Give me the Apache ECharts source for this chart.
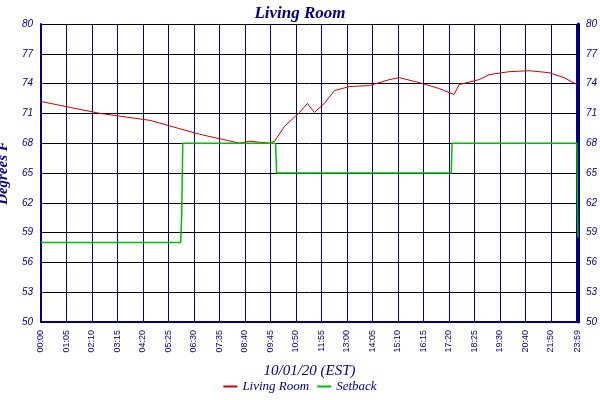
<!DOCTYPE html><html><head><meta charset="utf-8"><script src="https://cdn.jsdelivr.net/npm/echarts@6/dist/echarts.min.js"></script></head><body style="margin:0"><div id="c" style="width:600px;height:400px"></div><script>
const tickLabels=['00:00','01:05','02:10','03:15','04:20','05:25','06:30','07:35','08:40','09:45','10:50','11:55','13:00','14:05','15:10','16:15','17:20','18:25','19:30','20:40','21:50'];
const lastLabel='23:59';
const roomPos=[0,2.31,4.27,6.22,7.79,8.18,8.96,9.16,9.55,10.14,10.45,10.72,11.11,11.51,12.09,12.88,13.66,14.05,14.83,15.62,16.2,16.4,17.18,17.57,18.36,19.14,19.92,20.51,21.02];
const roomTemps=[72.2,71.0,70.3,68.9,68.0,68.2,68.0,68.2,69.7,71.1,72.0,71.1,72.0,73.3,73.7,73.8,74.4,74.6,74.1,73.5,72.9,73.9,74.4,74.9,75.2,75.3,75.1,74.6,73.9];
const setbackPos=[0,5.48,5.52,5.56,9.2,9.24,16.09,16.12,21.02,21.04,21.06];
const setbackTemps=[58,58,61,68,68,65,65,68,68,61,58.5];
const yTicks={min:50,max:80,step:3};
const navy='#000080';
const font='Liberation Sans';
const ch=echarts.init(document.getElementById('c'));
ch.setOption({
 animation:false,
 title:{text:'Living Room',left:'center',top:0,textStyle:{color:navy,fontFamily:'Liberation Serif',fontStyle:'italic',fontWeight:'bold',fontSize:17}},
 legend:{bottom:2,itemWidth:14,itemHeight:2,icon:'rect',textStyle:{color:navy,fontStyle:'italic',fontFamily:'Liberation Serif',fontSize:13},data:['Living Room','Setback']},
 grid:{left:41,right:22,top:24,bottom:78,outerBoundsMode:'none',containLabel:false},
 xAxis:{type:'value',min:0,max:21.06,interval:1,name:'10/01/20 (EST)',nameLocation:'middle',nameGap:42,
  nameTextStyle:{color:navy,fontStyle:'italic',fontFamily:'Liberation Serif',fontSize:15},
  axisLine:{lineStyle:{color:navy,width:2}},axisTick:{show:false},
  axisLabel:{rotate:90,color:navy,fontSize:9,fontFamily:font,showMaxLabel:true,
   formatter:v=>{const i=Math.round(v);return Math.abs(v-i)<0.01&&i<tickLabels.length?tickLabels[i]:lastLabel;}},
  splitLine:{lineStyle:{color:navy,width:1}}},
 yAxis:[{type:'value',min:yTicks.min,max:yTicks.max,interval:yTicks.step,name:'Degrees F',nameLocation:'middle',nameGap:26,
  nameTextStyle:{color:navy,fontStyle:'italic',fontWeight:'bold',fontFamily:'Liberation Serif',fontSize:15},
  axisLine:{show:true,lineStyle:{color:navy,width:2}},axisTick:{show:false},
  axisLabel:{color:navy,fontStyle:'italic',fontSize:10,fontFamily:font},splitLine:{lineStyle:{color:'#000',width:1}}},
  {type:'value',min:yTicks.min,max:yTicks.max,interval:yTicks.step,position:'right',
  axisLine:{show:true,lineStyle:{color:navy,width:3}},axisTick:{show:false},
  axisLabel:{color:navy,fontStyle:'italic',fontSize:10,fontFamily:font},splitLine:{show:false}}],
 series:[
  {name:'Living Room',type:'line',symbol:'none',color:'#cc0000',lineStyle:{width:1},data:roomPos.map((m,i)=>[m,roomTemps[i]])},
  {name:'Setback',type:'line',symbol:'none',step:'end',color:'#00bb00',lineStyle:{width:1.5},data:setbackPos.map((m,i)=>[m,setbackTemps[i]])}
 ]
});
</script></body></html>
